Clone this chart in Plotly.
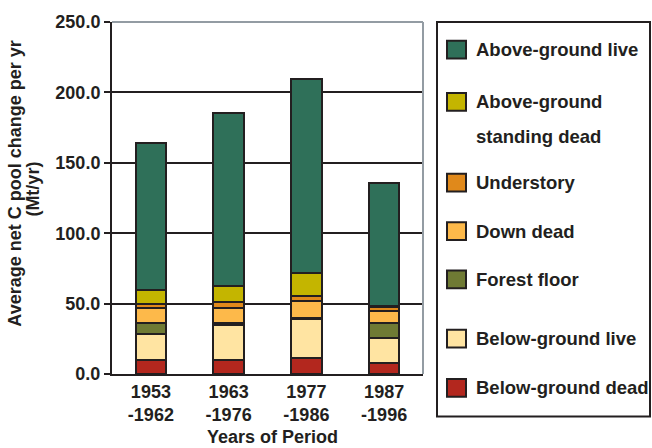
import plotly.graph_objects as go

periods = ["1953<br>-1962", "1963<br>-1976", "1977<br>-1986", "1987<br>-1996"]
series_names = ["Below-ground dead", "Below-ground live", "Forest floor", "Down dead",
                "Understory", "Above-ground standing dead", "Above-ground live"]
below_dead = [10.0, 10.0, 11.4, 8.0]
below_live = [18.6, 24.5, 28.0, 17.4]
forest_floor = [7.5, 2.0, 0.5, 10.7]
down_dead = [10.8, 10.3, 12.0, 8.4]
understory = [3.0, 4.0, 3.8, 3.3]
standing_dead = [10.0, 11.5, 15.7, 0.5]
above_live = [104.0, 123.0, 138.0, 87.5]
y_ticks = [0, 50, 100, 150, 200, 250]

colors = ["#b3271e", "#ffe4a2", "#6f7a34", "#fdb94a", "#e0891b", "#c4b500", "#2f7059"]
values = [below_dead, below_live, forest_floor, down_dead, understory, standing_dead, above_live]

W, H = 652, 448
L, R, T, B = 112, 423, 17, 374
def px(x):
    return (x - L) / (R - L)
def py(y):
    return (B - y) / (B - T)

fig = go.Figure()
for name, col, vals in zip(series_names, colors, values):
    fig.add_trace(go.Bar(x=periods, y=vals, name=name, marker_color=col,
                         marker_line_color="#231f20", marker_line_width=2,
                         showlegend=False))

font = "Liberation Sans, Arial, sans-serif"
txt = "#231f20"
FS = 18
fig.update_layout(
    width=W, height=H, barmode="stack", bargap=0.61,
    margin=dict(l=L, r=W - R, t=T, b=H - B, pad=0),
    plot_bgcolor="white", paper_bgcolor="white",
    font=dict(family=font, size=FS, color=txt),
    xaxis=dict(showline=True, linecolor=txt, linewidth=2, ticks="",
               tickfont=dict(family=font, size=FS, color=txt, weight="bold"),
               fixedrange=True),
    yaxis=dict(range=[0, 250], tickvals=y_ticks, tickformat=".1f",
               showline=True, linecolor=txt, linewidth=2,
               ticks="outside", ticklen=6, tickwidth=2, tickcolor=txt,
               showgrid=True, gridcolor=txt, gridwidth=2, zeroline=False,
               tickfont=dict(family=font, size=FS, color=txt, weight="bold")),
)

# grey top and right frame of plot area
fig.add_shape(type="line", xref="paper", yref="paper", x0=0, x1=1, y0=1, y1=1,
              line=dict(color="#939ca3", width=2))
fig.add_shape(type="line", xref="paper", yref="paper", x0=1, x1=1, y0=0, y1=1,
              line=dict(color="#939ca3", width=2))

bold = dict(family=font, size=FS, color=txt, weight="bold")
lbold = dict(family=font, size=18.5, color=txt, weight="bold")
# y-axis title
fig.add_annotation(text="Average net C pool change per yr", xref="paper", yref="paper",
                   x=px(15), y=py(181), textangle=-90, showarrow=False,
                   xanchor="center", yanchor="middle", font=bold)
fig.add_annotation(text="(Mt/yr)", xref="paper", yref="paper",
                   x=px(33), y=py(187), textangle=-90, showarrow=False,
                   xanchor="center", yanchor="middle", font=bold)
# x-axis title
fig.add_annotation(text="Years of Period", xref="paper", yref="paper",
                   x=px(272), y=py(438), showarrow=False,
                   xanchor="center", yanchor="middle", font=bold)

# legend box
fig.add_shape(type="rect", xref="paper", yref="paper", x0=px(437), x1=px(650),
              y0=py(417), y1=py(17), line=dict(color=txt, width=2), fillcolor="white")
leg_items = [
    (6, 45, "Above-ground live"),
    (5, 98, "Above-ground"),
    (4, 180, "Understory"),
    (3, 229, "Down dead"),
    (2, 278, "Forest floor"),
    (1, 338, "Below-ground live"),
    (0, 388, "Below-ground dead"),
]
for idx, yc, label in leg_items:
    fig.add_shape(type="rect", xref="paper", yref="paper",
                  x0=px(447), x1=px(466), y0=py(yc + 9), y1=py(yc - 9),
                  fillcolor=colors[idx], line=dict(color=txt, width=2))
    fig.add_annotation(text=label, xref="paper", yref="paper", x=px(474), y=py(yc),
                       showarrow=False, xanchor="left", yanchor="middle", font=lbold)
fig.add_annotation(text="standing dead", xref="paper", yref="paper", x=px(474), y=py(133),
                   showarrow=False, xanchor="left", yanchor="middle", font=lbold)

fig.write_html("out.html", config={"displayModeBar": False},
               post_script="document.body.style.margin='0';document.body.style.overflow='hidden';")
